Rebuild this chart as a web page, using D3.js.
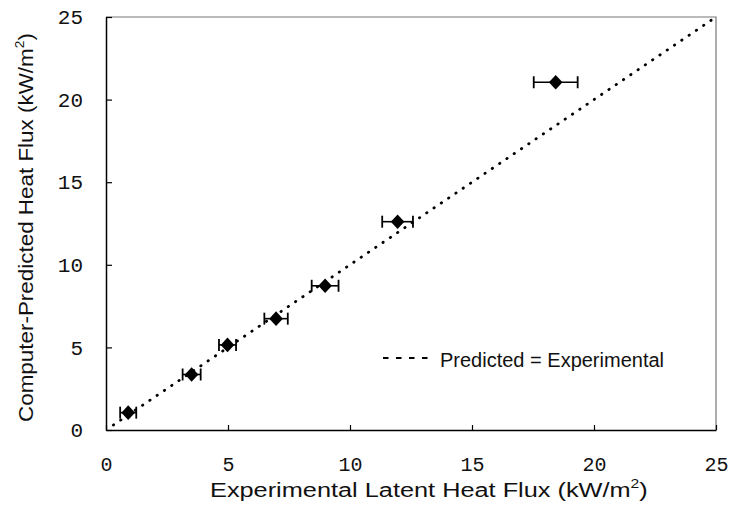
<!DOCTYPE html>
<html>
<head>
<meta charset="utf-8">
<script src="https://cdn.jsdelivr.net/npm/d3@7/dist/d3.min.js"></script>
<style>
  html, body { margin: 0; padding: 0; background: #fff; }
  svg { display: block; }
</style>
</head>
<body>
<svg id="chart" width="731" height="521"></svg>
<script>
// ---- data ----
const xTickValues = [0, 5, 10, 15, 20, 25];
const yTickValues = [0, 5, 10, 15, 20, 25];
const experimental = [0.91, 3.51, 4.98, 6.97, 8.98, 11.95, 18.43];
const predicted    = [1.05, 3.36, 5.15, 6.74, 8.73, 12.61, 21.05];
const xError       = [0.33, 0.37, 0.35, 0.48, 0.55, 0.63, 0.90];
const identityLine = [0.3, 25];
const xTitle = "Experimental Latent Heat Flux (kW/m";
const yTitle = "Computer-Predicted Heat Flux (kW/m";
const legendLabel = "Predicted = Experimental";

// ---- layout ----
const svg = d3.select("#chart");
const x = d3.scaleLinear().domain([0, 25]).range([106, 716]);
const y = d3.scaleLinear().domain([0, 25]).range([430, 17]);
const monoFont = "'Liberation Mono', 'DejaVu Sans Mono', monospace";
const sansFont = "'Liberation Sans', Arial, sans-serif";

// frame top/right (lighter)
svg.append("path")
  .attr("d", `M${x(0)},${y(25)}H${x(25)}V${y(0)}`)
  .attr("fill", "none").attr("stroke", "#777").attr("stroke-width", 1.2);

// y axis
const yAxis = d3.axisLeft(y).tickValues(yTickValues).tickSize(-6).tickSizeOuter(0).tickPadding(23)
  .tickFormat(d3.format("d"));
const gy = svg.append("g").attr("transform", `translate(${x(0)},0)`).call(yAxis);
gy.select(".domain").attr("stroke", "#000").attr("stroke-width", 1.5);
gy.selectAll(".tick line").attr("stroke", "#000").attr("stroke-width", 1.2);
gy.selectAll(".tick text").attr("font-family", monoFont).attr("font-size", 21).attr("fill", "#111");

// x axis
const xAxis = d3.axisBottom(x).tickValues(xTickValues).tickSize(-5).tickSizeOuter(0).tickPadding(0)
  .tickFormat(d3.format("d"));
const gx = svg.append("g").attr("transform", `translate(0,${y(0)})`).call(xAxis);
gx.select(".domain").attr("stroke", "#000").attr("stroke-width", 1.5);
gx.selectAll(".tick line").attr("stroke", "#000").attr("stroke-width", 1.2);
gx.selectAll(".tick text").attr("font-family", monoFont).attr("font-size", 20).attr("fill", "#111")
  .attr("dy", null).attr("y", 41);

// identity (dotted) line
svg.append("line")
  .attr("x1", x(identityLine[0])).attr("y1", y(identityLine[0]))
  .attr("x2", x(identityLine[1])).attr("y2", y(identityLine[1]))
  .attr("stroke", "#000").attr("stroke-width", 2.8)
  .attr("stroke-linecap", "round").attr("stroke-dasharray", "0.4,8.4");

// error bars
const pts = experimental.map((v, i) => ({ x: v, y: predicted[i], e: xError[i] }));
const eb = svg.append("g").attr("stroke", "#000");
eb.selectAll("line.h").data(pts).join("line").attr("class", "h")
  .attr("x1", d => x(d.x - d.e)).attr("x2", d => x(d.x + d.e))
  .attr("y1", d => y(d.y)).attr("y2", d => y(d.y)).attr("stroke-width", 1.6);
eb.selectAll("line.cl").data(pts).join("line").attr("class", "cl")
  .attr("x1", d => x(d.x - d.e)).attr("x2", d => x(d.x - d.e))
  .attr("y1", d => y(d.y) - 6).attr("y2", d => y(d.y) + 6).attr("stroke-width", 1.8);
eb.selectAll("line.cr").data(pts).join("line").attr("class", "cr")
  .attr("x1", d => x(d.x + d.e)).attr("x2", d => x(d.x + d.e))
  .attr("y1", d => y(d.y) - 6).attr("y2", d => y(d.y) + 6).attr("stroke-width", 1.8);

// diamond markers
const hw = 6.8, hh = 7.3;
svg.append("g").selectAll("path").data(pts).join("path")
  .attr("d", d => `M${x(d.x)},${y(d.y) - hh}L${x(d.x) + hw},${y(d.y)}L${x(d.x)},${y(d.y) + hh}L${x(d.x) - hw},${y(d.y)}Z`)
  .attr("fill", "#000");

// legend
svg.append("line")
  .attr("x1", 383).attr("x2", 428).attr("y1", 358).attr("y2", 358)
  .attr("stroke", "#000").attr("stroke-width", 2).attr("stroke-dasharray", "5.5,7.5");
svg.append("text").attr("x", 440).attr("y", 367)
  .attr("font-family", sansFont).attr("font-size", 20).attr("fill", "#111")
  .text(legendLabel);

// x title (stretched horizontally to match the reference's wide lettering)
const xtg = svg.append("g");
const xt = xtg.append("text").attr("x", 0).attr("y", 0)
  .attr("font-family", sansFont).attr("font-size", 21).attr("fill", "#111");
xt.append("tspan").text(xTitle);
xt.append("tspan").attr("font-size", 13).attr("dy", -9).text("2");
xt.append("tspan").attr("dy", 9).text(")");
const xw = xt.node().getBBox().width;
xtg.attr("transform", `translate(210,497) scale(${438 / xw},1)`);

// y title
const ytg = svg.append("g");
const yt = ytg.append("text").attr("x", 0).attr("y", 0)
  .attr("font-family", sansFont).attr("font-size", 21).attr("fill", "#111");
yt.append("tspan").text(yTitle);
yt.append("tspan").attr("font-size", 13).attr("dy", -9).text("2");
yt.append("tspan").attr("dy", 9).text(")");
const yw = yt.node().getBBox().width;
ytg.attr("transform", `translate(33,422) rotate(-90) scale(${389 / yw},1)`);
</script>
</body>
</html>
